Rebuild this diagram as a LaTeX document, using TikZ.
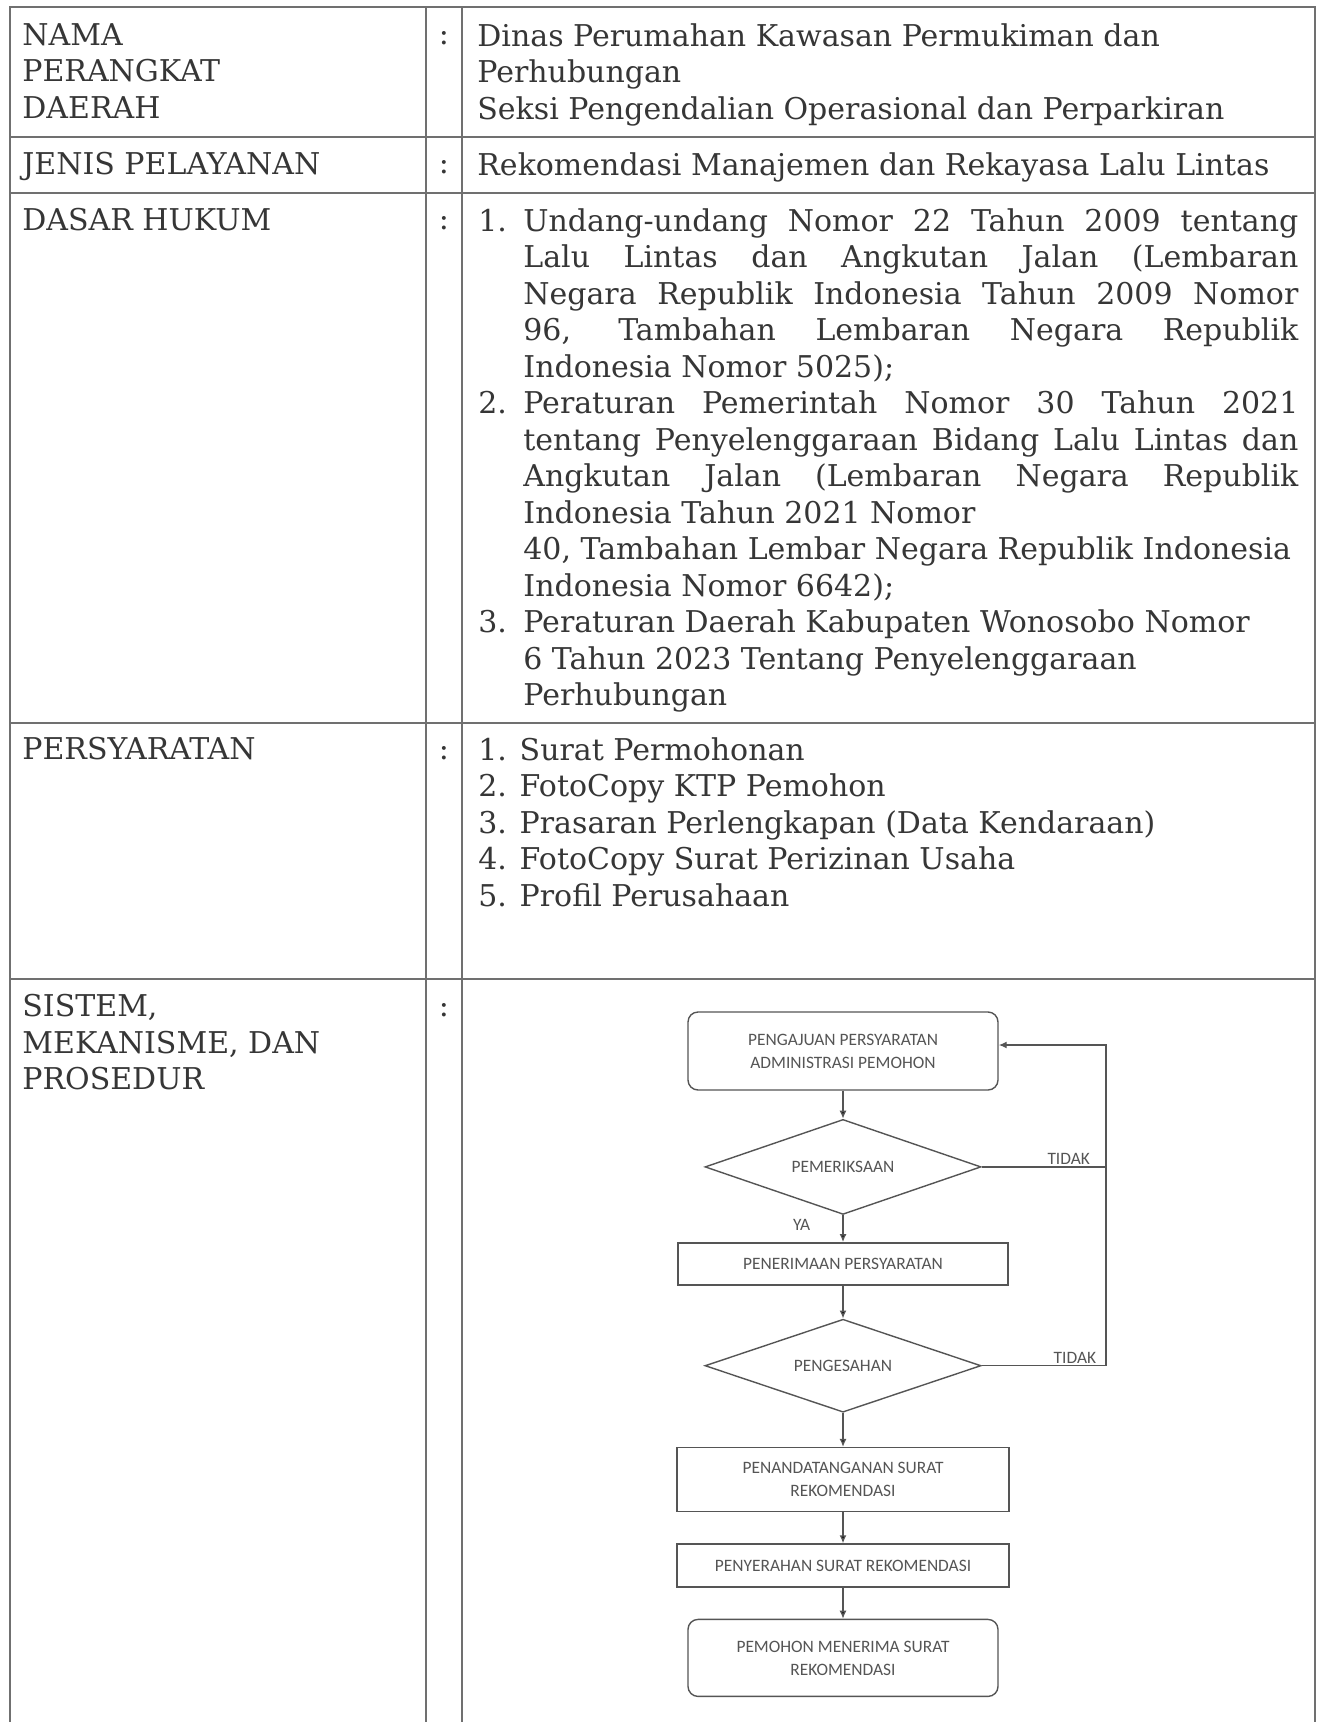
\documentclass[tikz,border=0pt]{standalone}
\usepackage{fontspec}
\setmainfont{DejaVu Serif}
\newfontfamily\flowfont{Carlito}
\usetikzlibrary{arrows.meta}
\usetikzlibrary{positioning}
\usetikzlibrary{shapes.geometric}

\newlength{\bodywd}\setlength{\bodywd}{387.5pt}
\newlength{\numwd}\setlength{\numwd}{22.5pt}
\newcommand{\jline}[1]{\makebox[\bodywd][s]{#1}}
\newcommand{\itemno}[1]{\makebox[\numwd][l]{#1}}
\newcommand{\indline}{\hspace*{\numwd}}

\definecolor{ink}{HTML}{363636}
\definecolor{rulecol}{HTML}{707070}
\definecolor{flowink}{HTML}{555555}

\tikzset{
  rule/.style={draw=rulecol, line width=0.8pt},
  cell/.style={anchor=north west, inner sep=0pt, align=left, text=ink,
    font=\fontsize{15pt}{18.25pt}\selectfont},
  colon/.style={anchor=base, inner sep=0pt, text=ink,
    font=\fontsize{15pt}{18.25pt}\selectfont},
  pbox/.style={draw=flowink, line width=0.7pt, minimum width=166pt, align=center,
    text=flowink, font=\flowfont\fontsize{8.7pt}{11.5pt}\selectfont},
  rbox/.style={pbox, rounded corners=5pt},
  decide/.style={diamond, aspect=2.9, draw=flowink, line width=0.7pt, minimum width=138pt,
    minimum height=47.5pt, inner sep=0pt, text=flowink,
    font=\flowfont\fontsize{8.7pt}{10pt}\selectfont},
  flow/.style={draw=flowink, line width=0.7pt, -{Latex[length=4pt,width=3.5pt]}},
  link/.style={draw=flowink, line width=0.7pt},
  lbl/.style={text=flowink, inner sep=1pt, font=\flowfont\fontsize{8.7pt}{10pt}\selectfont}
}

\begin{document}
\begin{tikzpicture}[x=0.5pt, y=-0.5pt]

  \fill[white] (0,0) rectangle (1322,1722);
  \useasboundingbox (0,0) rectangle (1322,1722);

  % grid of the table
  \draw[rule] (10,1722) -- (10,7) -- (1315,7) -- (1315,1722);
  \foreach \xx in {426,462}
    \draw[rule] (\xx,7) -- (\xx,1722);
  \foreach \yy in {137,193,723,979}
    \draw[rule] (10,\yy) -- (1315,\yy);

  % left column
  \node[cell] (nama)   at (22,23)  {NAMA\\PERANGKAT\\DAERAH};
  \node[cell] (jenis)  at (22,152) {JENIS PELAYANAN};
  \node[cell] (dasar)  at (22,208) {DASAR HUKUM};
  \node[cell] (syarat) at (22,737) {PERSYARATAN};
  \node[cell] (sistem) at (22,994) {SISTEM,\\MEKANISME, DAN\\PROSEDUR};

  % colons
  \foreach \yy/\nm in {45/c_1, 174/c_2, 230/c_3, 759/c_4, 1016/c_5}
    \node[colon] (\nm) at (444,\yy) {:};

  % right column
  \node[cell] (dinas) at (477,23)
    {Dinas Perumahan Kawasan Permukiman dan\\Perhubungan\\Seksi Pengendalian Operasional dan Perparkiran};
  \node[cell] (layanan) at (477,152) {Rekomendasi Manajemen dan Rekayasa Lalu Lintas};
  \node[cell] (hukum) at (478,208) {%
    \itemno{1.}\jline{Undang-undang Nomor 22 Tahun 2009 tentang}\\
    \indline\jline{Lalu Lintas dan Angkutan Jalan (Lembaran}\\
    \indline\jline{Negara Republik Indonesia Tahun 2009 Nomor}\\
    \indline\jline{96, Tambahan Lembaran Negara Republik}\\
    \indline Indonesia Nomor 5025);\\
    \itemno{2.}\jline{Peraturan Pemerintah Nomor 30 Tahun 2021}\\
    \indline\jline{tentang Penyelenggaraan Bidang Lalu Lintas dan}\\
    \indline\jline{Angkutan Jalan (Lembaran Negara Republik}\\
    \indline Indonesia Tahun 2021 Nomor\\
    \indline 40, Tambahan Lembar Negara Republik Indonesia\\
    \indline Indonesia Nomor 6642);\\
    \itemno{3.}Peraturan Daerah Kabupaten Wonosobo Nomor\\
    \indline 6 Tahun 2023 Tentang Penyelenggaraan\\
    \indline Perhubungan};
  \node[cell] (syaratisi) at (478,737)
    {1. Surat Permohonan\\2. FotoCopy KTP Pemohon\\3. Prasaran Perlengkapan (Data Kendaraan)\\4. FotoCopy Surat Perizinan Usaha\\5. Profil Perusahaan};

  % flowchart
  \node[rbox, minimum width=155pt, minimum height=39pt] (ajuan) at (843,1051)
    {PENGAJUAN PERSYARATAN\\ADMINISTRASI PEMOHON};
  \node[decide] (periksa) [below=14pt of ajuan] {PEMERIKSAAN};
  \node[pbox, minimum width=165pt, minimum height=21pt] (terima) [below=13.5pt of periksa]
    {PENERIMAAN PERSYARATAN};
  \node[decide, minimum height=46.5pt] (sah) [below=16.5pt of terima] {PENGESAHAN};
  \node[pbox, minimum height=32pt] (ttd) [below=17pt of sah]
    {PENANDATANGANAN SURAT\\REKOMENDASI};
  \node[pbox, minimum height=21.5pt] (serah) [below=15.5pt of ttd]
    {PENYERAHAN SURAT REKOMENDASI};
  \node[rbox, minimum width=155pt, minimum height=38.5pt] (pemohon) [below=15.5pt of serah]
    {PEMOHON MENERIMA SURAT\\REKOMENDASI};

  \coordinate (balik) at (1106,1045);

  \path[flow]
    (ajuan) edge (periksa)
    (periksa) edge node[lbl, left=15pt, pos=0.35] {YA} (terima)
    (terima) edge (sah)
    (sah) edge (ttd)
    (ttd) edge (serah)
    (serah) edge (pemohon);

  \draw[link] (periksa.east) -- node[lbl, above, pos=0.7] {TIDAK} (periksa.east -| balik);
  \draw[flow] (sah.east) -- node[lbl, above, pos=0.75] {TIDAK} (sah.east -| balik)
    -- (balik) -- (balik -| ajuan.east);

\end{tikzpicture}
\end{document}
